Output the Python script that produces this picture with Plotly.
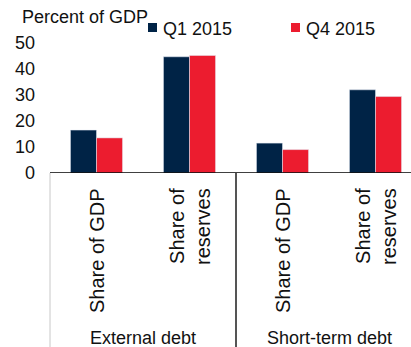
import plotly.graph_objects as go

# Debt indicators, percent of GDP
groups = ["External debt", "Short-term debt"]
measures = ["Share of GDP", "Share of<br>reserves"]
categories = [(g, m) for g in groups for m in measures]
q1_2015 = [16.5, 44.7, 11.5, 32.0]
q4_2015 = [13.5, 45.2, 9.0, 29.4]
series_names = ["Q1 2015", "Q4 2015"]
y_ticks = [0, 10, 20, 30, 40, 50]

NAVY = "#002346"
RED = "#ec1c2f"
COLORS = [NAVY, RED]
FONT = "Liberation Sans, Arial, sans-serif"

W, H = 411, 347
ML, MT, MB = 50, 43, 174
plot_w = W - ML
plot_h = H - MT - MB
zero_px = H - MB


def px_x(p):
    return (p - ML) / plot_w


def px_y(p):
    return (zero_px - p) / plot_h


xs = list(range(len(categories)))

fig = go.Figure()
for name, vals, col in zip(series_names, [q1_2015, q4_2015], COLORS):
    fig.add_trace(go.Bar(x=xs, y=vals, name=name, marker_color=col,
                         showlegend=False))

# sub-category labels, rotated, hanging below the zero line
for i, (_, m) in enumerate(categories):
    fig.add_annotation(x=i, xref="x", y=-13 / plot_h, yref="paper",
                       text=m, textangle=-90, showarrow=False,
                       xanchor="center", yanchor="top", align="right",
                       font=dict(family=FONT, size=20, color="#111"))

# group labels, centred under each pair of categories
for gi, g in enumerate(groups):
    fig.add_annotation(x=gi * 2 + 0.5, xref="x", y=px_y(338),
                       yref="paper", text=g, showarrow=False,
                       xanchor="center", yanchor="middle",
                       font=dict(family=FONT, size=18, color="#111"))

# unit label
fig.add_annotation(x=px_x(20), xref="paper", y=px_y(17), yref="paper",
                   text="Percent of GDP", showarrow=False,
                   xanchor="left", yanchor="middle",
                   font=dict(family=FONT, size=18, color="#111"))

# legend: small colour keys followed by series names
key_left = [148, 291]
for name, col, kx in zip(series_names, COLORS, key_left):
    fig.add_shape(type="rect", xref="paper", yref="paper",
                  x0=px_x(kx), x1=px_x(kx + 9), y0=px_y(32), y1=px_y(23),
                  fillcolor=col, line=dict(width=0))
    fig.add_annotation(x=px_x(kx + 13), xref="paper", y=px_y(29), yref="paper",
                       text=name, showarrow=False, xanchor="left",
                       yanchor="middle",
                       font=dict(family=FONT, size=18, color="#111"))

# axis frame: zero line, left border and group divider
fig.add_shape(type="line", xref="paper", yref="y", x0=0, x1=1, y0=0, y1=0,
              line=dict(color="#000", width=1.5))
fig.add_shape(type="line", xref="paper", yref="paper", x0=0, x1=0,
              y0=0, y1=-MB / plot_h, line=dict(color="#c8c8c8", width=1))
fig.add_shape(type="line", xref="x", yref="paper", x0=1.5, x1=1.5,
              y0=0, y1=-MB / plot_h, line=dict(color="#555", width=2))

fig.update_layout(
    width=W, height=H,
    margin=dict(l=ML, r=0, t=MT, b=MB, pad=0),
    paper_bgcolor="white", plot_bgcolor="white",
    barmode="group", bargap=0.44, bargroupgap=0,
    font=dict(family=FONT, size=18, color="#111"),
    showlegend=False,
    xaxis=dict(range=[-0.5, 3.5 - 11 / 93], showticklabels=False,
               showgrid=False, zeroline=False, showline=False, ticks=""),
    yaxis=dict(range=[0, 50], tickvals=y_ticks, showgrid=False,
               zeroline=False, showline=False, ticks="",
               ticklabelstandoff=14,
               tickfont=dict(family=FONT, size=18, color="#111")),
)

fig.write_html("out.html")
